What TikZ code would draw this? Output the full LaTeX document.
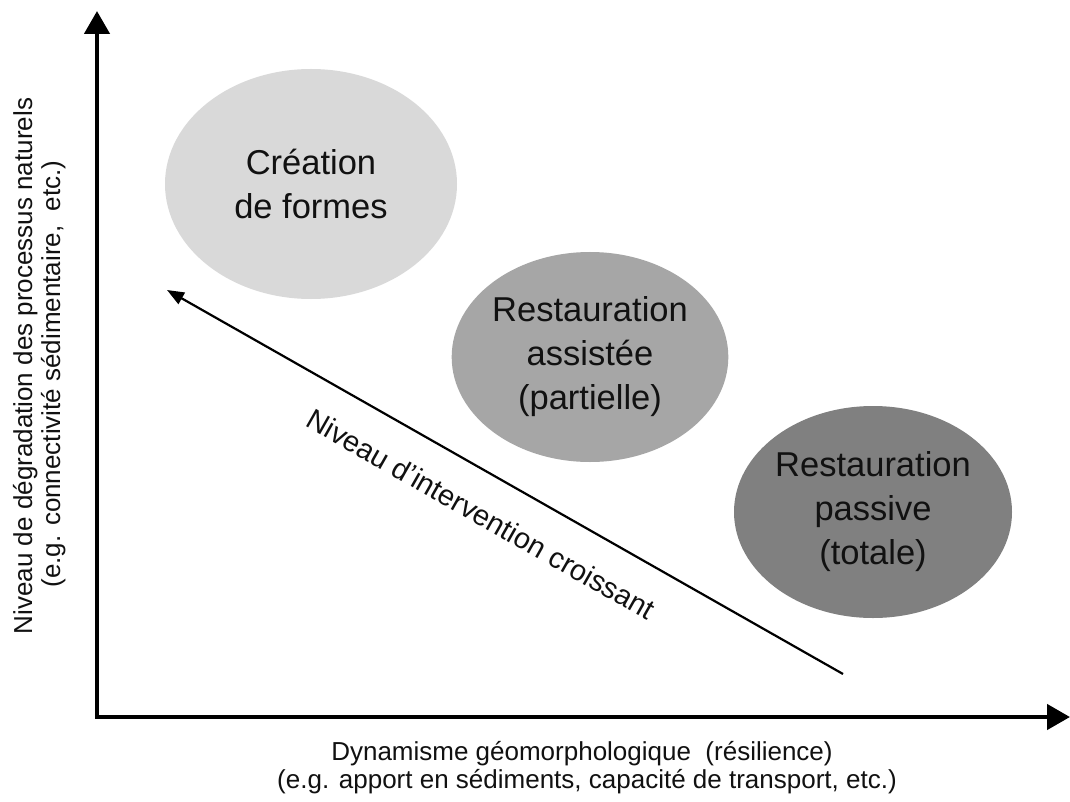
\documentclass[tikz,border=0pt]{standalone}
\usepackage{fontspec}
\setmainfont{Liberation Sans}
\usetikzlibrary{shapes.geometric,arrows.meta}
\definecolor{ellA}{HTML}{D9D9D9}
\definecolor{ellB}{HTML}{A6A6A6}
\definecolor{ellC}{HTML}{808080}
\definecolor{ink}{HTML}{111111}
\begin{document}
\begin{tikzpicture}[x=1pt,y=-1pt,
  blob/.style={ellipse, inner sep=0pt, align=center, text=ink, font=\fontsize{34.5}{44}\selectfont},
  axisline/.style={line width=4.5pt, line join=miter, {Triangle[length=23pt,width=25pt]}-{Triangle[length=23pt,width=25pt]}},
  axlabel/.style={font=\fontsize{26}{28}\selectfont, text=ink, inner sep=0pt, anchor=base},
  trend/.style={line width=2.2pt, -{Triangle[length=17pt,width=13pt]}},
  trendlabel/.style={font=\fontsize{29}{31}\selectfont, text=ink, inner sep=0pt, rotate=-29.6}]
\useasboundingbox (0,0) rectangle (1070,802);
\fill[white] (0,0) rectangle (1070,802);

% ellipses
\node[blob, fill=ellA, minimum width=292pt, minimum height=230pt] (e1) at (311,184) {Création\\de formes};
\node[blob, fill=ellB, minimum width=276pt, minimum height=210pt] (e2) at (590,357) {Restauration\\assistée\\(partielle)};
\node[blob, fill=ellC, minimum width=278pt, minimum height=212pt] (e3) at (873,512) {Restauration\\passive\\(totale)};

% axes
\coordinate (ytip) at (97,11);
\coordinate (O) at (97,717);
\coordinate (xtip) at (1070,717);
\draw[axisline] (ytip) -- (O) -- (xtip);

% trend arrow
\coordinate (tS) at (843,674);
\coordinate (tE) at (167,290);
\draw[trend] (tS) -- (tE);
\node[trendlabel] (tl) at (481,514) {Niveau d’intervention croissant};

% axis labels
\node[axlabel] (xl1) at (582,760) {Dynamisme géomorphologique \ (résilience)};
\node[axlabel] (xl2) at (587,788) {(e.g. apport en sédiments, capacité de transport, etc.)};
\node[axlabel, rotate=90] (yl1) at (32,366) {Niveau de dégradation des processus naturels};
\node[axlabel, rotate=90] (yl2) at (60,374) {(e.g. connectivité sédimentaire, \ etc.)};
\end{tikzpicture}
\end{document}
